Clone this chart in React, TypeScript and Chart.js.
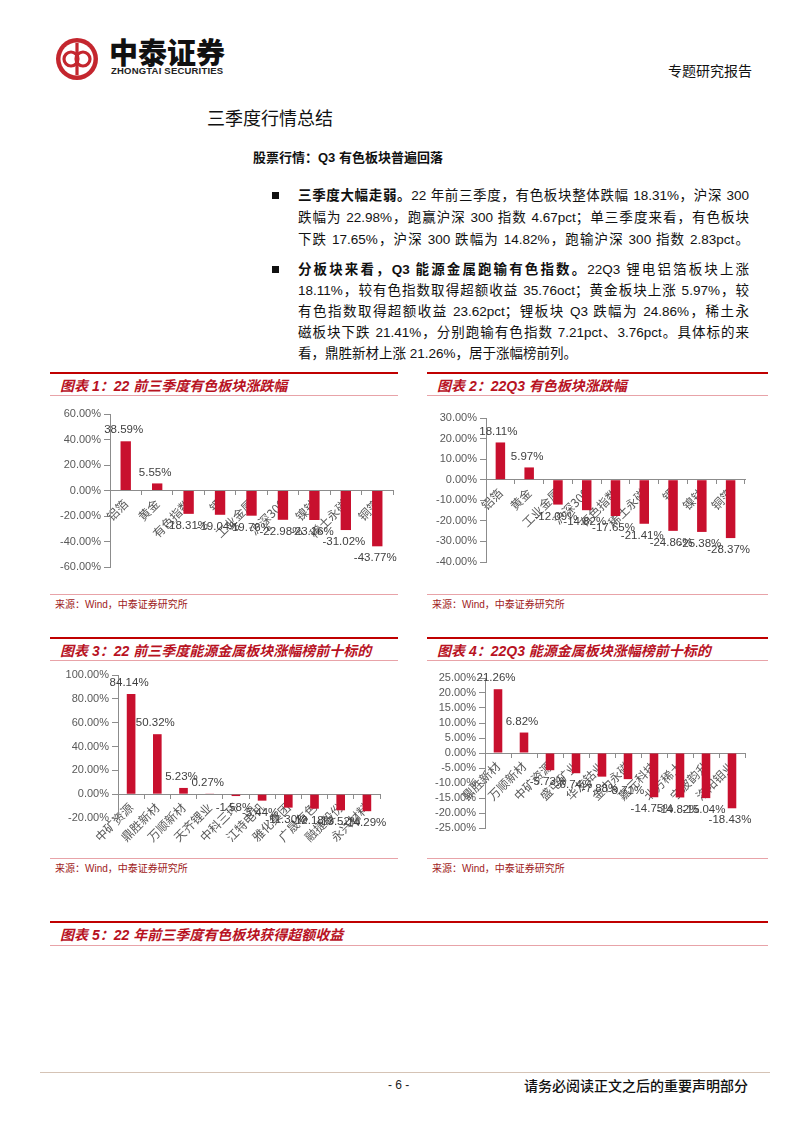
import React, { useEffect, useRef } from "react";
import { Chart, registerables } from "chart.js";

Chart.register(...registerables);

// ---------- data ----------
const cats1 = ["铝箔", "黄金", "有色指数", "锂", "工业金属", "沪深300", "镍钴", "稀土永磁", "铜箔"];
const vals1 = [38.59, 5.55, -18.31, -19.04, -19.76, -22.98, -23.16, -31.02, -43.77];

const cats2 = ["铝箔", "黄金", "工业金属", "沪深300", "有色指数", "稀土永磁", "锂", "镍钴", "铜箔"];
const vals2 = [18.11, 5.97, -12.09, -14.82, -17.65, -21.41, -24.86, -25.38, -28.37];

const cats3 = ["中矿资源", "鼎胜新材", "万顺新材", "天齐锂业", "中科三环", "江特电机", "雅化集团", "广晟有色", "融捷股份", "永兴材料"];
const vals3 = [84.14, 50.32, 5.23, 0.27, -1.58, -5.44, -11.3, -12.18, -13.52, -14.29];

const cats4 = ["鼎胜新材", "万顺新材", "中矿资源", "盛屯矿业", "华友钴业", "金力永磁", "嘉元科技", "北方稀土", "宁波韵升", "洛阳钼业"];
const vals4 = [21.26, 6.82, -5.73, -6.74, -7.88, -8.71, -14.75, -14.82, -15.04, -18.43];

const BAR = "#C8102E";
const AXIS = "#8c8c8c";
const TICK = "#595959";
const SANS = '"Liberation Sans", Arial, "Noto Sans CJK SC", sans-serif';
const CJK = '"Noto Sans CJK SC", "Liberation Sans", sans-serif';
const RED = "#B8121F";

const valueLabels = {
  id: "valueLabels",
  afterDatasetsDraw(chart: any) {
    const ctx = chart.ctx;
    const meta = chart.getDatasetMeta(0);
    const data = chart.data.datasets[0].data as number[];
    ctx.save();
    ctx.font = '11.5px "Liberation Sans", Arial, sans-serif';
    ctx.fillStyle = "#404040";
    ctx.textAlign = "center";
    ctx.textBaseline = "middle";
    meta.data.forEach((bar: any, i: number) => {
      const v = data[i];
      const y = v >= 0 ? bar.y - 11 : bar.y + 12;
      ctx.fillText(v.toFixed(2) + "%", bar.x - 2, y);
    });
    ctx.restore();
  },
};

type BarProps = {
  labels: string[];
  values: number[];
  min: number;
  max: number;
  step: number;
  left: number;
  top: number;
  width: number;
  height: number;
  yWidth: number;
  pad: { top: number; bottom: number; right: number };
};

function BarChart(p: BarProps) {
  const ref = useRef<HTMLCanvasElement>(null);
  useEffect(() => {
    if (!ref.current) return;
    const chart = new Chart(ref.current, {
      type: "bar",
      data: {
        labels: p.labels,
        datasets: [
          {
            data: p.values,
            backgroundColor: BAR,
            borderWidth: 0,
            categoryPercentage: 1,
            barPercentage: 0.33,
          },
        ],
      },
      options: {
        animation: false,
        responsive: false,
        devicePixelRatio: 1,
        layout: { padding: { top: p.pad.top, bottom: p.pad.bottom, right: p.pad.right, left: 0 } },
        plugins: { legend: { display: false }, tooltip: { enabled: false } },
        scales: {
          x: {
            position: { y: 0 } as any,
            grid: { drawOnChartArea: false, drawTicks: true, tickLength: 4, color: AXIS },
            border: { color: AXIS, width: 1 },
            ticks: {
              minRotation: 45,
              maxRotation: 45,
              autoSkip: false,
              padding: 2,
              color: TICK,
              font: { family: CJK, size: 12 },
            },
          },
          y: {
            min: p.min,
            max: p.max,
            grid: { drawOnChartArea: false, drawTicks: true, tickLength: 6, color: AXIS },
            border: { color: AXIS, width: 1 },
            ticks: {
              stepSize: p.step,
              autoSkip: false,
              padding: 3,
              color: TICK,
              font: { family: SANS, size: 11 },
              callback: (v: any) => Number(v).toFixed(2) + "%",
            },
            afterFit: (s: any) => {
              s.width = p.yWidth;
            },
          },
        },
      } as any,
      plugins: [valueLabels],
    });
    return () => chart.destroy();
  }, []);
  return (
    <canvas
      ref={ref}
      width={p.width}
      height={p.height}
      style={{ position: "absolute", left: p.left, top: p.top, width: p.width, height: p.height }}
    />
  );
}

function Text(props: { x: number; y: number; size: number; children: any; style?: any }) {
  const lh = Math.round(props.size * 1.3);
  return (
    <div
      style={{
        position: "absolute",
        left: props.x,
        top: props.y - lh / 2,
        fontSize: props.size,
        lineHeight: lh + "px",
        whiteSpace: "nowrap",
        fontFamily: SANS,
        color: "#000",
        ...(props.style || {}),
      }}
    >
      {props.children}
    </div>
  );
}

function JLine(props: { y: number; children: any; last?: boolean }) {
  return (
    <div
      style={{
        position: "absolute",
        left: 298,
        width: 451,
        top: props.y - 10,
        fontSize: 13.5,
        lineHeight: "20px",
        whiteSpace: "nowrap",
        fontFamily: SANS,
        color: "#111",
        textAlign: props.last ? "left" : "justify",
        textAlignLast: props.last ? "left" : "justify",
      }}
    >
      {props.children}
    </div>
  );
}

function Panel(props: { x: number; w: number; top: number; bottom: number; title: string }) {
  const { x, w, top, bottom, title } = props;
  return (
    <>
      <div style={{ position: "absolute", left: x, top: top - 1, width: w, height: 2, background: "#C00000" }} />
      <Text x={x + 10} y={top + 13} size={14} style={{ color: RED, fontWeight: "bold", fontStyle: "italic", fontFamily: SANS }}>
        {title}
      </Text>
      <div style={{ position: "absolute", left: x, top: top + 22, width: w, height: 1, background: "#E8A3A8" }} />
      <div style={{ position: "absolute", left: x, top: bottom, width: w, height: 1, background: "#E8A3A8" }} />
      <Text x={x + 5} y={bottom + 10} size={10} style={{ color: "#9E1B22" }}>
        来源：Wind，中泰证券研究所
      </Text>
    </>
  );
}

function Logo() {
  return (
    <svg width={46} height={46} style={{ position: "absolute", left: 54, top: 36 }} viewBox="0 0 46 46">
      <circle cx={23} cy={23} r={21} fill="#C4262E" />
      <circle cx={23} cy={23} r={16.5} fill="#fff" />
      <circle cx={17} cy={23} r={7} fill="none" stroke="#C4262E" strokeWidth={3.2} />
      <circle cx={29} cy={23} r={7} fill="none" stroke="#C4262E" strokeWidth={3.2} />
      <rect x={21.4} y={7} width={3.2} height={32} fill="#C4262E" />
    </svg>
  );
}

export default function App() {
  useEffect(() => {
    document.body.style.margin = "0";
  }, []);
  return (
    <div style={{ position: "relative", width: 802, height: 1133, background: "#fff", overflow: "hidden" }}>
      <Logo />
      <Text x={109} y={51} size={29} style={{ fontFamily: CJK, fontWeight: 900, color: "#111", letterSpacing: 0 }}>
        中泰证券
      </Text>
      <Text x={111} y={71} size={9.5} style={{ fontWeight: "bold", color: "#222", letterSpacing: 0.2 }}>
        ZHONGTAI SECURITIES
      </Text>
      <Text x={668} y={70} size={14} style={{ fontFamily: CJK, color: "#111" }}>
        专题研究报告
      </Text>

      <Text x={207} y={117} size={18} style={{ fontFamily: CJK, color: "#111" }}>
        三季度行情总结
      </Text>
      <Text x={253} y={157} size={13} style={{ fontWeight: "bold", color: "#111" }}>
        股票行情：Q3 有色板块普遍回落
      </Text>

      <div style={{ position: "absolute", left: 272, top: 192, width: 7, height: 7, background: "#111" }} />
      <JLine y={196}>
        <b>三季度大幅走弱。</b>22 年前三季度，有色板块整体跌幅 18.31%，沪深 300
      </JLine>
      <JLine y={218}>跌幅为 22.98%，跑赢沪深 300 指数 4.67pct；单三季度来看，有色板块</JLine>
      <JLine y={240}>下跌 17.65%，沪深 300 跌幅为 14.82%，跑输沪深 300 指数 2.83pct。</JLine>

      <div style={{ position: "absolute", left: 272, top: 266, width: 7, height: 7, background: "#111" }} />
      <JLine y={270}>
        <b>分板块来看，Q3 能源金属跑输有色指数。</b>22Q3 锂电铝箔板块上涨
      </JLine>
      <JLine y={291}>18.11%，较有色指数取得超额收益 35.76oct；黄金板块上涨 5.97%，较</JLine>
      <JLine y={312}>有色指数取得超额收益 23.62pct；锂板块 Q3 跌幅为 24.86%，稀土永</JLine>
      <JLine y={333}>磁板块下跌 21.41%，分别跑输有色指数 7.21pct、3.76pct。具体标的来</JLine>
      <JLine y={354} last>
        看，鼎胜新材上涨 21.26%，居于涨幅榜前列。
      </JLine>

      <Panel x={50} w={348} top={373} bottom={594} title="图表 1：22 前三季度有色板块涨跌幅" />
      <Panel x={427} w={341} top={373} bottom={594} title="图表 2：22Q3 有色板块涨跌幅" />
      <Panel x={50} w={348} top={638} bottom={858} title="图表 3：22 前三季度能源金属板块涨幅榜前十标的" />
      <Panel x={427} w={341} top={638} bottom={858} title="图表 4：22Q3 能源金属板块涨幅榜前十标的" />

      <BarChart labels={cats1} values={vals1} min={-60} max={60} step={20}
        left={50} top={400} width={348} height={190} yWidth={60}
        pad={{ top: 14, bottom: 23, right: 5 }} />
      <BarChart labels={cats2} values={vals2} min={-40} max={30} step={10}
        left={425} top={400} width={330} height={190} yWidth={61}
        pad={{ top: 18, bottom: 28, right: 10 }} />
      <BarChart labels={cats3} values={vals3} min={-20} max={100} step={20}
        left={50} top={662} width={340} height={193} yWidth={68}
        pad={{ top: 13, bottom: 37, right: 10 }} />
      <BarChart labels={cats4} values={vals4} min={-25} max={25} step={5}
        left={425} top={662} width={332} height={193} yWidth={60}
        pad={{ top: 16, bottom: 27, right: 12 }} />

      {/* panel 5 header */}
      <div style={{ position: "absolute", left: 50, top: 921, width: 718, height: 2, background: "#C00000" }} />
      <Text x={60} y={935} size={14} style={{ color: RED, fontWeight: "bold", fontStyle: "italic" }}>
        图表 5：22 年前三季度有色板块获得超额收益
      </Text>
      <div style={{ position: "absolute", left: 50, top: 945, width: 718, height: 1, background: "#E8A3A8" }} />

      {/* footer */}
      <div style={{ position: "absolute", left: 40, top: 1072, width: 730, height: 1, background: "#D5C3B5" }} />
      <Text x={388} y={1085} size={12} style={{ color: "#222" }}>
        - 6 -
      </Text>
      <Text x={524} y={1085} size={14} style={{ fontFamily: CJK, fontWeight: 500, color: "#111" }}>
        请务必阅读正文之后的重要声明部分
      </Text>
    </div>
  );
}
